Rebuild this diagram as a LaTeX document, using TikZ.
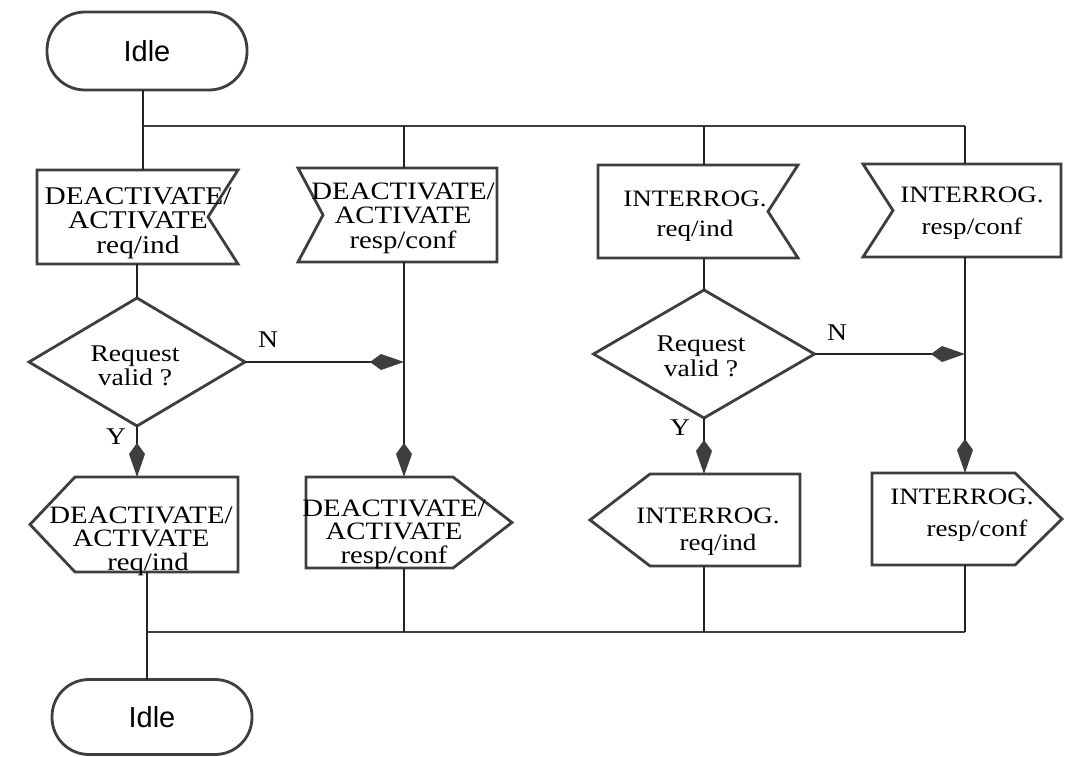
\documentclass[tikz,border=0pt]{standalone}
\usepackage{fontspec}
\setmainfont[FakeStretch=1.15]{Liberation Serif}
\newfontfamily\idlefont{Liberation Sans}
\usetikzlibrary{arrows.meta,shapes.geometric,calc}
\definecolor{ink}{RGB}{35,35,35}
\definecolor{edge}{RGB}{62,62,62}
\begin{document}
\begin{tikzpicture}[x=1pt,y=-1pt,
  outl/.style={draw=edge, line width=2.8pt, line join=miter},
  conn/.style={draw=ink, line width=1.8pt},
  busline/.style={draw=edge, line width=1.6pt},
  arr/.style={-{Kite[length=34pt 0,width=16pt 0,inset=11pt 0,color=edge]}},
  box/.style={draw=none, inner sep=0pt, outer sep=0pt, rectangle},
  lbl/.style={inner sep=0pt, outer sep=0pt, font=\fontsize{23.5}{24}\selectfont},
  dlbl/.style={inner sep=0pt, outer sep=0pt, font=\fontsize{24}{23}\selectfont},
  yn/.style={inner sep=0pt, outer sep=0pt, font=\fontsize{24}{24}\selectfont},
  term/.style={draw=edge, line width=2.8pt, inner sep=0pt, outer sep=0pt,
    minimum width=200pt, font=\idlefont\fontsize{29}{30}\selectfont},
  dec/.style={diamond, draw=edge, line width=2.8pt, inner sep=0pt, outer sep=0pt},
]
\useasboundingbox (0,0) rectangle (1088,757);

% column and bus coordinates
\coordinate (c1a) at (143,0);
\coordinate (c1) at (137,0);
\coordinate (c1b) at (147,0);
\coordinate (c2) at (404,0);
\coordinate (c3) at (704,0);
\coordinate (c4) at (965,0);
\coordinate (bust) at (0,126);
\coordinate (busb) at (0,632);

% terminals
\node[term, rounded corners=38pt, minimum height=78pt] (idle1) at (147,51) {Idle};
\node[term, rounded corners=37pt, minimum height=75pt] (idle2) at (152,717) {Idle};

% shape frames
\node[box, minimum width=201pt, minimum height=94pt] (b1) at (137.5,217) {};
\node[box, minimum width=199pt, minimum height=94pt] (b2) at (397.5,215) {};
\node[box, minimum width=200pt, minimum height=93pt] (b3) at (698,211.5) {};
\node[box, minimum width=198pt, minimum height=93pt] (b4) at (962,210.5) {};
\node[box, minimum width=208pt, minimum height=95pt] (b5) at (134,524.5) {};
\node[box, minimum width=206pt, minimum height=91pt] (b6) at (409,522.5) {};
\node[box, minimum width=210pt, minimum height=92pt] (b7) at (695,520) {};
\node[box, minimum width=190pt, minimum height=92pt] (b8) at (967,519) {};
\node[dec, minimum width=216pt, minimum height=128pt] (d1) at (137,362) {};
\node[dec, minimum width=221pt, minimum height=128pt] (d2) at (704,354) {};

% input signal outlines
\draw[outl] (b1.north west) -- (b1.north east) -- ([xshift=-30pt]b1.east) -- (b1.south east) -- (b1.south west) -- cycle;
\draw[outl] (b2.north west) -- (b2.north east) -- (b2.south east) -- (b2.south west) -- ([xshift=25pt]b2.west) -- cycle;
\draw[outl] (b3.north west) -- (b3.north east) -- ([xshift=-30pt]b3.east) -- (b3.south east) -- (b3.south west) -- cycle;
\draw[outl] (b4.north west) -- (b4.north east) -- (b4.south east) -- (b4.south west) -- ([xshift=30pt]b4.west) -- cycle;
% output signal outlines
\draw[outl] ([xshift=45pt]b5.north west) -- (b5.north east) -- (b5.south east) -- ([xshift=45pt]b5.south west) -- (b5.west) -- cycle;
\draw[outl] (b6.north west) -- ([xshift=-59pt]b6.north east) -- (b6.east) -- ([xshift=-59pt]b6.south east) -- (b6.south west) -- cycle;
\draw[outl] ([xshift=60pt]b7.north west) -- (b7.north east) -- (b7.south east) -- ([xshift=60pt]b7.south west) -- (b7.west) -- cycle;
\draw[outl] (b8.north west) -- ([xshift=-47pt]b8.north east) -- (b8.east) -- ([xshift=-47pt]b8.south east) -- (b8.south west) -- cycle;

% texts
\node[lbl, font=\fontsize{25.5}{24}\selectfont] (t1) at (138,224) {\begin{tabular}{@{}c@{}}DEACTIVATE/\\ACTIVATE\\req/ind\end{tabular}};
\node[lbl, font=\fontsize{25}{24}\selectfont] (t2) at (403,219) {\begin{tabular}{@{}c@{}}DEACTIVATE/\\ACTIVATE\\resp/conf\end{tabular}};
\node[lbl] (t3) at (695,217) {\begin{tabular}{@{}c@{}}INTERROG.\\[6pt]req/ind\end{tabular}};
\node[lbl] (t4) at (972,214) {\begin{tabular}{@{}c@{}}INTERROG.\\[8pt]resp/conf\end{tabular}};
\node[lbl, font=\fontsize{25}{22}\selectfont] (t5) at (141,542) {\begin{tabular}{@{}c@{}}DEACTIVATE/\\ACTIVATE\\\hspace*{14pt}req/ind\end{tabular}};
\node[lbl, font=\fontsize{25}{22}\selectfont] (t6) at (394,535) {\begin{tabular}{@{}c@{}}DEACTIVATE/\\ACTIVATE\\resp/conf\end{tabular}};
\node[lbl] (t7) at (708,532) {\begin{tabular}{@{}c@{}}INTERROG.\\[3pt]\hspace*{20pt}req/ind\end{tabular}};
\node[lbl] (t8) at (962,516) {\begin{tabular}{@{}c@{}}INTERROG.\\[8pt]\hspace*{30pt}resp/conf\end{tabular}};
\node[dlbl] (td1) at (135,369) {\begin{tabular}{@{}c@{}}Request\\valid ?\end{tabular}};
\node[dlbl, font=\fontsize{24}{25}\selectfont] (td2) at (701,359) {\begin{tabular}{@{}c@{}}Request\\valid ?\end{tabular}};

% branch labels
\node[yn] (n1) at (268,340) {N};
\node[yn] (y1) at (116,437) {Y};
\node[yn] (n2) at (837,333) {N};
\node[yn] (y2) at (680,428) {Y};

% connectors, top
\draw[conn] (idle1.south -| c1a) -- (b1.north -| c1a);
\draw[busline] (c1a |- bust) -- (c4 |- bust);
\draw[conn] (c2 |- bust) -- (b2.north -| c2);
\draw[conn] (c3 |- bust) -- (b3.north -| c3);
\draw[conn] (c4 |- bust) -- (b4.north -| c4);
% column 1
\draw[conn] (b1.south -| c1) -- (d1.north);
\draw[conn, arr] (d1.south) -- (b5.north -| d1.south);
\draw[conn, arr] (d1.east) -- (d1.east -| c2);
% column 2
\draw[conn, arr] (b2.south -| c2) -- (b6.north -| c2);
% column 3
\draw[conn] (b3.south -| c3) -- (d2.north);
\draw[conn, arr] (d2.south) -- (b7.north -| d2.south);
\draw[conn, arr] (d2.east) -- (d2.east -| c4);
% column 4
\draw[conn, arr] (b4.south -| c4) -- (b8.north -| c4);
% bottom
\draw[conn] (b5.south -| c1b) -- (idle2.north -| c1b);
\draw[busline] (c1b |- busb) -- (c4 |- busb);
\draw[conn] (b6.south -| c2) -- (c2 |- busb);
\draw[conn] (b7.south -| c3) -- (c3 |- busb);
\draw[conn] (b8.south -| c4) -- (c4 |- busb);
\end{tikzpicture}
\end{document}
